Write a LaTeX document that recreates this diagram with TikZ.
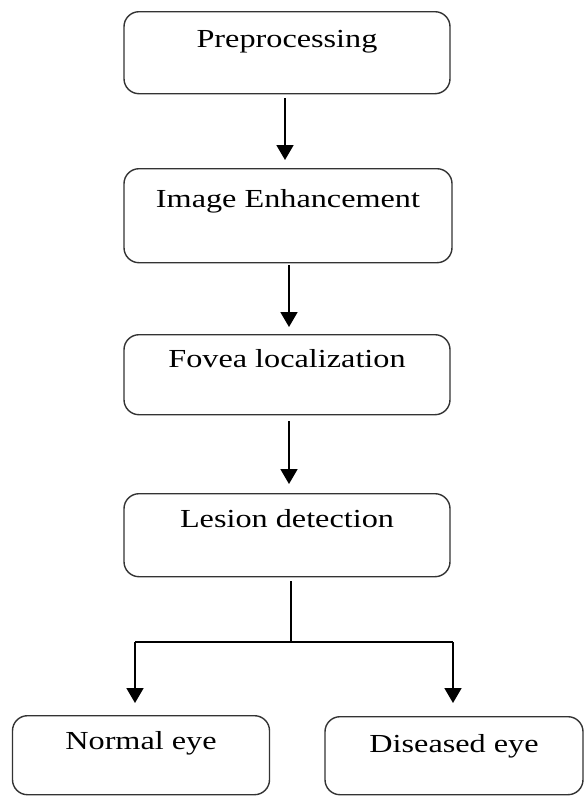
\documentclass[tikz,border=0pt]{standalone}
\usepackage{fontspec}
\setmainfont{Liberation Serif}
\usetikzlibrary{arrows.meta}
\newcommand{\wtxt}[1]{\scalebox{1.24}[1]{\fontsize{26}{30}\selectfont #1}}
\tikzset{
  box/.style={draw=black!80, line width=1.4pt, rounded corners=15pt, inner sep=0pt, anchor=north},
  flow/.style={line width=1.8pt, -{Triangle[width=17pt,length=15pt]}},
  plain/.style={line width=1.8pt}
}
\begin{document}
\begin{tikzpicture}[x=1pt,y=-1pt]
\useasboundingbox (0,0) rectangle (586,796);
\node[box, minimum width=326pt, text height=36pt, text depth=46pt] (pre) at (287,11) {\wtxt{Preprocessing}};
\node[box, minimum width=328pt, text height=39pt, text depth=55pt] (enh) at (288,168) {\wtxt{Image Enhancement}};
\node[box, minimum width=326pt, text height=33pt, text depth=47pt] (fov) at (287,334) {\wtxt{Fovea localization}};
\node[box, minimum width=326pt, text height=34pt, text depth=49pt] (les) at (287,493) {\wtxt{Lesion detection}};
\node[box, minimum width=257pt, text height=34pt, text depth=45pt] (nor) at (141,715) {\wtxt{Normal eye}};
\node[box, minimum width=258pt, text height=36pt, text depth=42pt] (dis) at (454,716) {\wtxt{Diseased eye}};

\draw[flow, shorten <=4pt, shorten >=8pt] ([xshift=-2pt]pre.south) -- ([xshift=-2pt]pre.south |- enh.north);
\draw[flow, shorten <=2pt, shorten >=7pt] ([xshift=1pt]enh.south) -- ([xshift=1pt]enh.south |- fov.north);
\draw[flow, shorten <=6pt, shorten >=9pt] ([xshift=2pt]fov.south) -- ([xshift=2pt]fov.south |- les.north);
\coordinate (j) at (291,642);
\coordinate (jl) at (135,642);
\coordinate (jr) at (453,642);
\draw[plain] ([xshift=4pt,yshift=-4pt]les.south) -- (j);
\draw[plain] (jl) -- (jr);
\draw[flow, shorten >=12pt] (jl) -- (jl |- nor.north);
\draw[flow, shorten >=13pt] (jr) -- (jr |- dis.north);
\end{tikzpicture}
\end{document}
